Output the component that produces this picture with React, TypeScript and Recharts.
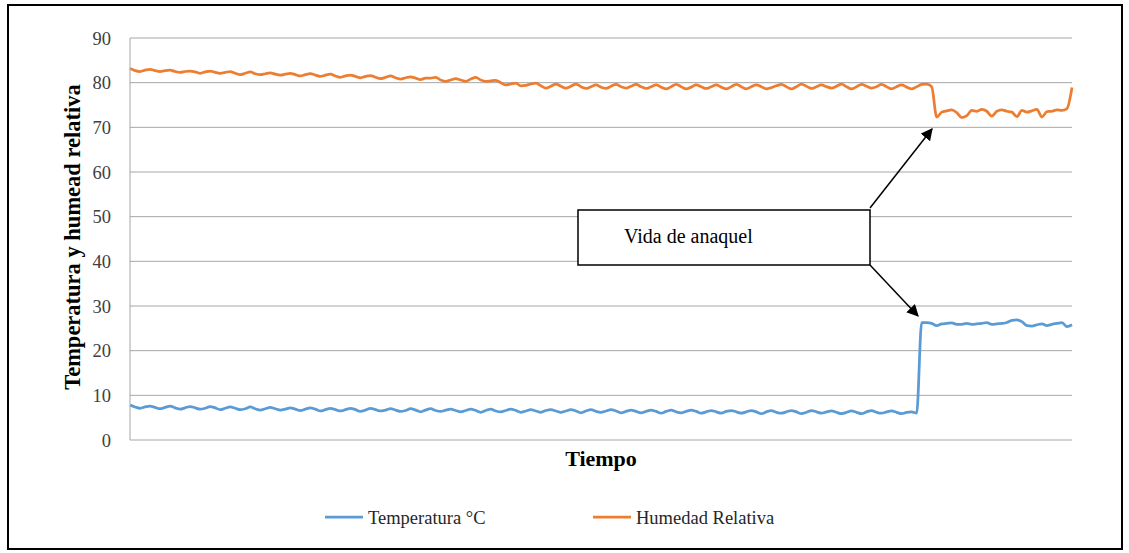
import React from 'react';
import { LineChart, Line, XAxis, YAxis, CartesianGrid } from 'recharts';

// temperatura (°C), one reading every step of "Tiempo"
const temperatura = [
  7.8, 7.4, 7.1, 7.4, 7.6, 7.3, 7.0, 7.3, 7.6, 7.2, 6.9, 7.2,
  7.5, 7.2, 6.9, 7.1, 7.5, 7.2, 6.8, 7.1, 7.4, 7.1, 6.8, 7.0,
  7.4, 7.0, 6.7, 7.0, 7.3, 7.0, 6.7, 6.9, 7.2, 6.9, 6.6, 6.9,
  7.2, 6.9, 6.5, 6.8, 7.1, 6.8, 6.5, 6.8, 7.1, 6.8, 6.4, 6.7,
  7.1, 6.8, 6.5, 6.7, 7.0, 6.7, 6.4, 6.6, 7.0, 6.7, 6.3, 6.7,
  7.0, 6.6, 6.4, 6.7, 6.9, 6.6, 6.3, 6.6, 6.9, 6.6, 6.2, 6.6,
  6.9, 6.5, 6.3, 6.6, 6.9, 6.6, 6.2, 6.5, 6.8, 6.5, 6.2, 6.6,
  6.8, 6.5, 6.2, 6.5, 6.8, 6.5, 6.1, 6.5, 6.8, 6.4, 6.2, 6.5,
  6.8, 6.5, 6.1, 6.4, 6.7, 6.4, 6.1, 6.4, 6.7, 6.4, 6.0, 6.4,
  6.7, 6.3, 6.1, 6.4, 6.7, 6.4, 6.0, 6.3, 6.6, 6.3, 6.0, 6.4,
  6.6, 6.3, 6.0, 6.3, 6.6, 6.3, 5.9, 6.3, 6.6, 6.2, 6.0, 6.3,
  6.6, 6.3, 5.9, 6.2, 6.6, 6.3, 6.0, 6.3, 6.5, 6.2, 5.9, 6.2,
  6.5, 6.2, 5.9, 6.3, 6.6, 6.2, 6.0, 6.3, 6.5, 6.2, 5.9, 6.2,
  6.3, 6.0,
  26.3, 26.3, 26.1, 25.6, 26.0, 26.1, 26.2, 25.9, 25.9, 26.1,
  25.9, 26.0, 26.1, 26.3, 25.9, 26.0, 26.1, 26.3, 26.8, 26.9,
  26.5, 25.6, 25.5, 25.8, 26.0, 25.6, 25.9, 26.1, 26.3, 25.4,
  25.8,
];

// humedad relativa (%)
const humedad = [
  83.2, 82.7, 82.5, 82.8, 83.0, 82.7, 82.5, 82.7, 82.8, 82.5, 82.3, 82.5,
  82.6, 82.4, 82.1, 82.4, 82.6, 82.3, 82.1, 82.3, 82.5, 82.1, 81.8, 82.1,
  82.4, 82.0, 81.8, 82.0, 82.2, 81.9, 81.7, 81.9, 82.1, 81.8, 81.5, 81.8,
  82.0, 81.7, 81.4, 81.7, 81.9, 81.5, 81.2, 81.5, 81.7, 81.4, 81.1, 81.4,
  81.6, 81.2, 80.9, 81.2, 81.5, 81.1, 80.8, 81.1, 81.3, 81.0, 80.7, 81.0,
  81.0, 81.2, 80.6, 80.3, 80.6, 80.9, 80.6, 80.3, 80.8, 81.2, 80.6, 80.3,
  80.4, 80.5, 80.0, 79.5, 79.7, 79.9, 79.3, 79.4, 79.7, 79.9, 79.3, 78.8,
  79.2,
  79.7, 79.2, 78.8, 79.2, 79.7, 79.1, 78.7, 79.1, 79.5, 79.0, 78.7, 79.2,
  79.6, 79.1, 78.8, 79.2, 79.6, 79.1, 78.7, 79.1, 79.5, 79.0, 78.6, 79.1,
  79.6, 79.1, 78.6, 79.0, 79.5, 79.1, 78.7, 79.1, 79.5, 79.0, 78.6, 79.1,
  79.6, 79.1, 78.6, 79.1,
  79.5, 79.1, 78.6, 78.9, 79.3,
  79.6, 79.1, 78.6, 79.1, 79.7, 79.2, 78.7, 79.1, 79.5, 79.1, 78.8, 79.2,
  79.7, 79.1, 78.6, 79.1, 79.6, 79.2, 78.8, 79.1, 79.6, 79.1, 78.6, 79.1,
  79.5, 79.0, 78.6, 79.1,
  79.6, 79.7, 79.1,
  72.3, 73.4, 73.7, 73.9, 73.3, 72.2, 72.6, 73.8, 73.6, 74.0, 73.6, 72.5,
  73.6, 73.9, 73.6, 73.4, 72.4, 73.8, 73.4, 73.7, 74.0, 72.3, 73.5, 73.6,
  73.9, 73.8, 74.2,
  78.9,
];

const yTicks = [0, 10, 20, 30, 40, 50, 60, 70, 80, 90];

const series = [
  { key: 'temperatura', name: 'Temperatura °C', color: '#5B9BD5' },
  { key: 'humedad', name: 'Humedad Relativa', color: '#ED7D31' },
];

const data = temperatura.map((t, i) => ({ tiempo: i + 1, temperatura: t, humedad: humedad[i] }));

const FONT = "'Liberation Serif', 'Times New Roman', serif";

const App: React.FC = () => {
  return (
    <div style={{ position: 'absolute', left: 0, top: 0, width: 1129, height: 553, background: '#fff', fontFamily: FONT }}>
      <div
        style={{
          position: 'absolute',
          left: 7,
          top: 4,
          width: 1116,
          height: 546,
          border: '2px solid #000',
          boxSizing: 'border-box',
        }}
      />
      <div style={{ position: 'absolute', left: 0, top: 0 }}>
        <LineChart width={1129} height={553} data={data} margin={{ top: 38, right: 57, bottom: 73, left: 70 }}>
          <CartesianGrid vertical={false} stroke="#a6a6a6" strokeWidth={1} />
          <XAxis
            dataKey="tiempo"
            height={40}
            tick={false}
            tickLine={false}
            axisLine={false}
            label={{
              content: ({ viewBox }: any) => (
                <text
                  x={viewBox.x + viewBox.width / 2}
                  y={viewBox.y + 26}
                  textAnchor="middle"
                  fontFamily={FONT}
                  fontSize={22}
                  fontWeight="bold"
                  fill="#000"
                >
                  Tiempo
                </text>
              ),
            }}
          />
          <YAxis
            width={60}
            domain={[0, 90]}
            ticks={yTicks}
            interval={0}
            tickLine={false}
            tickSize={6}
            tickMargin={13}
            axisLine={{ stroke: '#a6a6a6' }}
            tick={{ fill: '#404040', fontSize: 18.5, fontFamily: FONT }}
            label={{
              content: ({ viewBox }: any) => (
                <text
                  transform={`translate(${viewBox.x + 2}, ${viewBox.y + viewBox.height / 2 - 2}) rotate(-90)`}
                  textAnchor="middle"
                  dominantBaseline="central"
                  fontFamily={FONT}
                  fontSize={22.5}
                  fontWeight="bold"
                  fill="#000"
                >
                  Temperatura y humead relativa
                </text>
              ),
            }}
          />
          {series.map((s) => (
            <Line
              key={s.key}
              type="monotone"
              dataKey={s.key}
              name={s.name}
              stroke={s.color}
              strokeWidth={2.75}
              strokeLinejoin="round"
              dot={false}
              activeDot={false}
              isAnimationActive={false}
            />
          ))}
        </LineChart>
      </div>
      <svg width={1129} height={553} style={{ position: 'absolute', left: 0, top: 0, pointerEvents: 'none' }}>
        <defs>
          <marker id="arrow" viewBox="0 0 10 10" refX="9" refY="5" markerWidth="8" markerHeight="8" orient="auto">
            <path d="M0,0 L10,5 L0,10 z" fill="#000" />
          </marker>
        </defs>
        <rect x={578} y={210} width={292} height={55} fill="#fff" stroke="#000" strokeWidth={1.5} />
        <text x={624} y={243} fontFamily={FONT} fontSize={20} fill="#000">
          Vida de anaquel
        </text>
        <line x1={870} y1={208} x2={932} y2={129} stroke="#000" strokeWidth={1.5} markerEnd="url(#arrow)" />
        <line x1={870} y1={265} x2={918} y2={316} stroke="#000" strokeWidth={1.5} markerEnd="url(#arrow)" />
        {series.map((s, i) => {
          const x0 = i === 0 ? 325 : 593;
          return (
            <g key={s.key}>
              <line x1={x0} y1={517} x2={x0 + 38} y2={517} stroke={s.color} strokeWidth={2.75} />
              <text x={x0 + 43} y={524} fontFamily={FONT} fontSize={18.5} fill="#262626">
                {s.name}
              </text>
            </g>
          );
        })}
      </svg>
    </div>
  );
};

export default App;
